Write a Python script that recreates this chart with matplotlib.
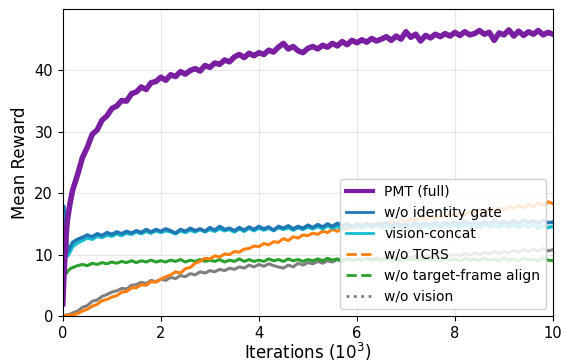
import numpy as np
import matplotlib.pyplot as plt
from matplotlib.lines import Line2D

# Iterations in units of 10^3: a few early samples, then every 0.1
ITER_EARLY = [0.0, 0.02, 0.05, 0.08, 0.1, 0.15]
ITER_MAIN = np.round(np.arange(0.2, 10.001, 0.1), 1)
iterations = np.concatenate([ITER_EARLY, ITER_MAIN])

pmt_full = [
  2.0, 6.0, 11.0, 14.5, 16.0, 18.5,
  20.5, 23.0, 25.8, 27.5, 29.6, 30.3, 31.9, 32.6, 33.8,
  34.2, 35.1, 35.0, 36.2, 36.5, 37.3, 36.9, 38.0, 38.2, 38.9,
  38.4, 39.3, 39.0, 39.8, 39.4, 40.0, 40.3, 39.9, 40.8, 40.5,
  41.2, 41.0, 41.7, 41.4, 42.2, 42.6, 42.1, 42.8, 42.4, 42.9,
  42.6, 43.3, 43.0, 43.8, 44.4, 43.5, 43.9, 43.2, 42.9, 43.6,
  43.9, 43.5, 44.1, 43.8, 44.4, 44.0, 44.7, 44.2, 44.9, 44.5,
  45.0, 44.6, 45.2, 44.8, 45.1, 45.5, 44.9, 45.6, 45.1, 46.3,
  45.4, 45.9, 44.8, 45.7, 45.3, 45.9, 45.5, 46.0, 45.6, 46.2,
  45.7, 46.3, 45.8, 46.0, 46.5, 45.9, 46.2, 44.9, 46.1, 45.8,
  46.6, 45.6, 46.4, 45.7, 46.3, 45.9, 46.5, 45.8, 46.2, 45.9,
]
no_identity_gate = [
  17.6, 17.9, 16.2, 12.3, 10.4, 11.2,
  12.0, 12.5, 12.8, 13.2, 12.9, 13.4, 13.1, 13.6, 13.3,
  13.7, 13.4, 13.8, 13.5, 13.9, 13.6, 14.1, 13.7, 14.1, 13.8,
  14.2, 13.9, 13.5, 14.1, 13.8, 14.3, 13.9, 14.2, 13.8, 14.4,
  14.0, 14.6, 14.1, 14.3, 13.9, 14.4, 14.0, 14.5, 14.1, 14.6,
  14.2, 14.5, 14.0, 14.6, 14.3, 14.7, 14.2, 14.6, 14.3, 14.8,
  14.4, 14.9, 14.5, 15.0, 14.6, 15.1, 14.7, 15.0, 14.6, 15.0,
  14.7, 15.1, 14.6, 15.0, 14.8, 15.2, 14.7, 15.1, 14.8, 15.0,
  14.7, 15.2, 14.8, 15.1, 14.9, 15.3, 14.8, 15.2, 14.9, 15.3,
  14.9, 15.4, 15.0, 15.3, 14.9, 15.4, 15.0, 15.5, 15.1, 15.4,
  15.0, 15.5, 15.1, 15.6, 15.2, 15.5, 15.1, 15.6, 15.2, 15.3,
]
vision_concat = [
  17.0, 16.8, 14.5, 11.0, 9.8, 10.5,
  11.3, 11.9, 12.3, 12.7, 12.5, 13.0, 12.8, 13.2, 13.0,
  13.4, 13.1, 13.5, 13.3, 13.7, 13.4, 13.8, 13.5, 13.9, 13.6,
  13.9, 13.7, 13.4, 13.9, 13.6, 14.0, 13.7, 14.1, 13.7, 14.1,
  13.8, 14.2, 13.9, 14.1, 13.7, 14.2, 13.8, 14.3, 13.9, 14.3,
  14.0, 14.3, 13.9, 14.4, 14.1, 14.4, 14.0, 14.4, 14.1, 14.5,
  14.2, 14.6, 14.2, 14.7, 14.3, 14.6, 14.2, 14.7, 14.3, 14.6,
  14.3, 14.7, 14.4, 14.8, 14.4, 14.7, 14.3, 14.8, 14.4, 14.7,
  14.4, 14.8, 14.4, 14.7, 14.3, 14.8, 14.4, 14.9, 14.5, 14.8,
  14.4, 14.9, 14.5, 14.8, 14.4, 14.9, 14.5, 14.8, 14.4, 14.9,
  14.5, 14.8, 14.4, 14.9, 14.5, 14.8, 14.3, 14.7, 14.4, 14.6,
]
no_tcrs = [
  0.0, 0.0, 0.05, 0.1, 0.1, 0.15,
  0.2, 0.4, 0.8, 1.1, 1.6, 1.9, 2.5, 2.7, 3.1,
  3.3, 3.9, 4.0, 4.6, 4.6, 5.1, 5.0, 5.6, 5.5, 6.0,
  6.4, 6.7, 7.2, 7.0, 7.7, 7.9, 8.6, 8.9, 9.4, 9.3,
  9.8, 9.6, 10.1, 10.0, 10.5, 10.4, 10.9, 11.0, 11.4, 11.3,
  11.8, 11.6, 12.1, 12.0, 12.6, 12.3, 12.9, 12.7, 13.2, 13.1,
  13.5, 13.3, 13.8, 13.6, 14.1, 13.8, 14.3, 14.0, 14.6, 14.3,
  14.8, 14.5, 15.0, 14.7, 15.2, 14.9, 15.4, 15.1, 15.6, 15.3,
  15.8, 15.5, 16.0, 15.7, 16.2, 15.9, 16.4, 16.1, 16.6, 16.3,
  16.8, 16.5, 17.0, 16.7, 17.2, 16.9, 17.4, 17.1, 17.6, 17.3,
  17.8, 17.5, 18.0, 17.6, 18.2, 17.8, 18.4, 18.0, 18.6, 18.3,
]
no_target_frame = [
  10.5, 9.2, 7.6, 7.0, 7.3, 7.7,
  7.9, 8.2, 8.4, 8.2, 8.6, 8.4, 8.7, 8.5, 8.8,
  8.6, 8.9, 8.7, 9.0, 8.7, 9.0, 8.8, 9.1, 8.8, 9.0,
  8.8, 9.1, 8.9, 9.2, 8.8, 9.1, 8.9, 9.2, 8.9, 9.1,
  8.9, 9.2, 8.8, 9.1, 8.9, 9.3, 8.9, 9.2, 8.9, 9.1,
  8.9, 9.3, 9.0, 9.2, 8.9, 9.3, 9.0, 9.2, 8.9, 9.2,
  9.0, 9.3, 9.0, 9.4, 9.1, 9.3, 9.0, 9.4, 9.1, 9.3,
  9.1, 9.4, 9.1, 9.3, 9.0, 9.4, 9.1, 9.3, 9.0, 9.4,
  9.1, 9.3, 9.0, 9.4, 9.1, 9.3, 9.0, 9.4, 9.1, 9.3,
  9.0, 9.4, 9.1, 9.3, 9.0, 9.4, 9.1, 9.3, 9.0, 9.4,
  9.1, 9.3, 9.0, 9.4, 9.1, 9.3, 9.0, 9.4, 9.1, 9.0,
]
no_vision = [
  0.0, 0.1, 0.1, 0.2, 0.2, 0.3,
  0.5, 0.8, 1.4, 1.7, 2.4, 2.6, 3.2, 3.5, 3.9,
  4.1, 4.5, 4.4, 5.0, 5.1, 5.5, 5.3, 5.8, 5.6, 6.0,
  5.8, 6.3, 6.1, 6.6, 6.4, 6.9, 6.7, 7.2, 7.0, 7.4,
  7.2, 7.6, 7.4, 7.8, 7.6, 8.0, 7.8, 8.3, 8.0, 8.4,
  8.1, 8.5, 8.2, 8.0, 7.8, 8.3, 8.0, 8.6, 8.3, 8.7,
  8.5, 8.9, 8.6, 9.0, 8.8, 9.2, 8.9, 9.3, 9.0, 9.3,
  9.1, 9.4, 9.2, 9.5, 9.3, 9.6, 9.3, 9.7, 9.4, 9.6,
  9.5, 9.8, 9.5, 9.9, 9.6, 9.9, 9.7, 10.1, 9.8, 10.0,
  9.8, 10.2, 9.9, 10.3, 10.0, 10.4, 10.1, 10.5, 10.2, 10.5,
  10.3, 10.7, 10.4, 10.8, 10.5, 10.9, 10.6, 11.0, 10.6, 10.8,
]

LABELS = ["PMT (full)", "w/o identity gate", "vision-concat",
          "w/o TCRS", "w/o target-frame align", "w/o vision"]
SERIES = [pmt_full, no_identity_gate, vision_concat,
          no_tcrs, no_target_frame, no_vision]
COLORS = ["#7b1fa2", "#1f77b4", "#17becf", "#ff7f0e", "#2ca02c", "#7f7f7f"]
STYLES = ["-", "-", "-", "--", "--", ":"]
WIDTHS = [3.0, 2.0, 2.0, 2.0, 2.0, 2.0]
PLOT_WIDTHS = [4.0, 2.5, 2.5, 2.2, 2.2, 2.2]

fig = plt.figure(figsize=(5.66, 3.62), dpi=100)
ax = fig.add_axes([0.111, 0.127, 0.866, 0.848])

# draw curves back to front so PMT stays on top
for vals, color, lw in list(zip(SERIES, COLORS, PLOT_WIDTHS))[::-1]:
  ax.plot(iterations, vals, color=color, lw=lw, solid_joinstyle="round")

handles = [
  Line2D([], [], color=c, lw=w, ls=s) for c, w, s in zip(COLORS, WIDTHS, STYLES)
]
ax.legend(handles, LABELS, loc="lower right", fontsize=10, framealpha=0.85)

ax.set_xlim(0, 10)
ax.set_ylim(0, 50)
ax.set_xticks([0, 2, 4, 6, 8, 10])
ax.set_yticks([0, 10, 20, 30, 40])
ax.tick_params(labelsize=10.5)
ax.grid(True, alpha=0.3)
ax.set_xlabel(r"Iterations ($10^3$)", fontsize=12, labelpad=0)
ax.set_ylabel("Mean Reward", fontsize=12)

fig.savefig("out.png", dpi=100)
